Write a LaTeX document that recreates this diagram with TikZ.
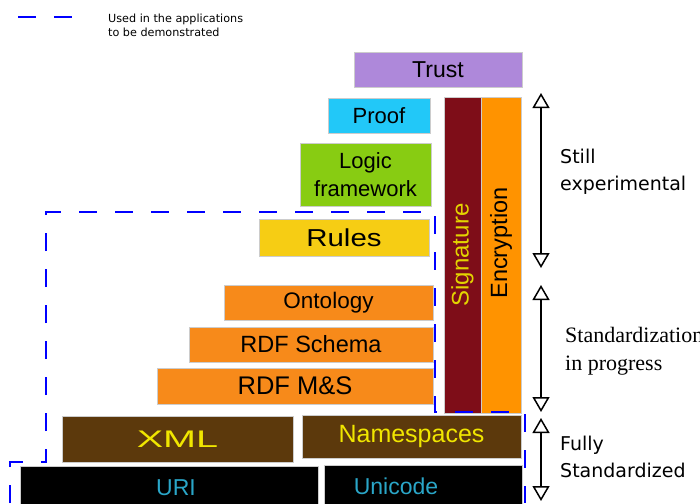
\documentclass[tikz,border=0pt]{standalone}
\usepackage{fontspec}
\usetikzlibrary{arrows.meta}
\newfontfamily\layerfont{Liberation Sans}
\newfontfamily\notefont{DejaVu Sans}
\newfontfamily\stdfont{Liberation Serif}
\newcommand{\setfs}[2]{\fontsize{#1}{#2}\selectfont}
\definecolor{trustc}{HTML}{AE88DA}
\definecolor{proofc}{HTML}{22C8F8}
\definecolor{logicc}{HTML}{88CC12}
\definecolor{sigc}{HTML}{7E0D18}
\definecolor{sigtext}{HTML}{E3D400}
\definecolor{encc}{HTML}{FF9300}
\definecolor{rulesc}{HTML}{F6CD14}
\definecolor{rdfc}{HTML}{F78A1A}
\definecolor{xmlc}{HTML}{5C390C}
\definecolor{xmltext}{HTML}{F0E600}
\definecolor{uritext}{HTML}{2AA6C8}
\begin{document}
\begin{tikzpicture}[x=1pt, y=-1pt,
  layer/.style={draw=black!20, line width=0.5pt, inner sep=0pt, font=\layerfont\setfs{22}{28}},
  usedline/.style={blue, line width=2pt, dash pattern=on 18pt off 18pt},
  spanarrow/.style={line width=1.5pt, {Triangle[open, width=17pt, length=15pt]}-{Triangle[open, width=17pt, length=15pt]}},
  note/.style={font=\notefont\setfs{19}{23}, anchor=base west, inner sep=0pt}]
  \useasboundingbox (0,0) rectangle (700,503);
  \clip (0,0) rectangle (700,503);
  % legend
  \coordinate (legA) at (18,17);
  \coordinate (legB) at (72,17);
  \draw[usedline] (legA) -- (legB);
  \node[note, font=\notefont\setfs{11.2}{14}] (legend1) at (108,23) {Used in the applications};
  \node[note, font=\notefont\setfs{11.2}{14}] (legend2) at (108,37) {to be demonstrated};
  % upper layers
  \node[layer, fill=trustc, minimum width=168pt, minimum height=35pt, font=\layerfont\setfs{23}{28}] (trust) at (438,69.5) {Trust};
  \node[layer, fill=proofc, minimum width=102pt, minimum height=35pt] (proof) at (379,115.5) {Proof};
  \node[layer, fill=logicc, minimum width=131pt, minimum height=63pt, align=center] (logic) at (365.5,174.5) {Logic\\framework};
  \node[layer, fill=sigc, text=sigtext, rotate=90, minimum width=316pt, minimum height=37pt, font=\layerfont\setfs{24}{28}] (signature) at (462.5,255) {Signature};
  \node[layer, fill=encc, rotate=90, minimum width=316pt, minimum height=40pt] (encryption) at (501,255) {};
  \node[rotate=90, inner sep=0pt, font=\layerfont\setfs{23.5}{28}] (encryptiontxt) at (501,243) {Encryption};
  \node[layer, fill=rulesc, minimum width=170pt, minimum height=37pt, font=\layerfont\setfs{24.5}{30}] (rules) at (344,237.5) {\scalebox{1.2}[1]{Rules}};
  % rdf layers
  \node[layer, fill=rdfc, minimum width=209pt, minimum height=35pt, font=\layerfont\setfs{22.5}{28}] (ontology) at (328.5,302.5) {Ontology};
  \node[layer, fill=rdfc, minimum width=244pt, minimum height=35pt, font=\layerfont\setfs{23.5}{28}] (rdfs) at (311,344.5) {RDF Schema};
  \node[layer, fill=rdfc, minimum width=276pt, minimum height=36pt, font=\layerfont\setfs{25.5}{28}] (rdfms) at (295,386) {RDF M\&S};
  % base layers
  \node[layer, fill=xmlc, text=xmltext, minimum width=231pt, minimum height=46pt, font=\layerfont\setfs{24}{28}] (xml) at (177.5,439) {\scalebox{1.65}[1]{XML}};
  \node[layer, fill=xmlc, text=xmltext, minimum width=219pt, minimum height=43pt, font=\layerfont\setfs{25}{28}] (namespaces) at (411.5,436.5) {Namespaces};
  \node[layer, fill=black, minimum width=298pt, minimum height=56pt] (uri) at (169,494) {};
  \node[text=uritext, inner sep=0pt, font=\layerfont\setfs{23}{28}] (uritxt) at (176,488) {URI};
  \node[layer, fill=black, minimum width=198pt, minimum height=56pt] (unicode) at (423,493) {};
  \node[text=uritext, inner sep=0pt, font=\layerfont\setfs{23}{28}] (unicodetxt) at (396,486) {Unicode};
  % region used in the applications
  \draw[usedline] (10,503) -- (10,462) -- (46,462) -- (46,212) -- (435,212) -- (435,412) -- (525,412) -- (525,503);
  % maturity ranges
  \coordinate (exptop) at (541,93);
  \coordinate (expbot) at (541,268);
  \coordinate (progtop) at (541,285);
  \coordinate (progbot) at (541,412);
  \coordinate (fulltop) at (541,418);
  \coordinate (fullbot) at (541,501);
  \draw[spanarrow] (exptop) -- (expbot);
  \draw[spanarrow] (progtop) -- (progbot);
  \draw[spanarrow] (fulltop) -- (fullbot);
  \node[note] (still) at (560,163) {Still};
  \node[note] (exper) at (560,190) {experimental};
  \node[note, font=\stdfont\setfs{22}{26}] (stdz) at (565,342) {Standardization};
  \node[note, font=\stdfont\setfs{22}{26}] (inprog) at (565,370) {in progress};
  \node[note] (fully) at (560,450) {Fully};
  \node[note] (fullstd) at (560,477) {Standardized};
\end{tikzpicture}
\end{document}
